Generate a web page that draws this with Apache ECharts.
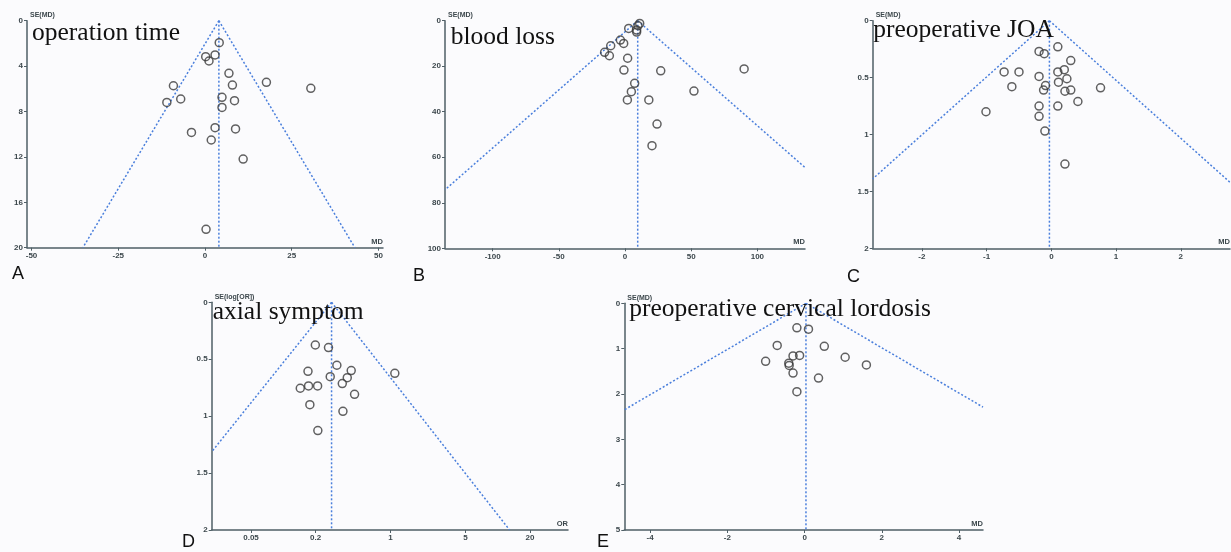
<!DOCTYPE html>
<html><head><meta charset="utf-8">
<script src="https://cdn.jsdelivr.net/npm/echarts@6/dist/echarts.min.js"></script>
<style>html,body{margin:0;padding:0;background:#fbfbfd}#c{width:1231px;height:552px}</style>
</head><body><div id="c"></div>
<script>
// ---------- A: operation time ----------
const opTimeMD = [4.1, 0.2, 2.9, 1.15, 6.9, 17.7, 7.9, -9.1, 30.5, 4.9, 8.5, -7.0, -11.0, 4.9, 2.9, 8.8, -3.9, 1.8, 11.0, 0.3];
const opTimeSE = [1.94, 3.17, 3.02, 3.55, 4.64, 5.43, 5.67, 5.73, 5.96, 6.75, 7.05, 6.90, 7.20, 7.64, 9.43, 9.54, 9.84, 10.51, 12.19, 18.38];
const opTimePooled = 4.0;
const opTimeLeftEnd = [-35.2, 20];
const opTimeRightEnd = [43.2, 20];
const opTimeXTicks = [-50, -25, 0, 25, 50];

// ---------- B: blood loss ----------
const bloodMD = [11.1, 9.8, 8.8, 8.8, 2.8, -3.5, -1.0, -10.8, -15.4, -11.8, 2.0, -0.8, 27.0, 90.0, 7.3, 4.8, 52.1, 1.8, 18.0, 24.2, 20.4];
const bloodSE = [1.2, 2.2, 4.1, 5.0, 3.4, 8.5, 10.0, 11.0, 13.9, 15.4, 16.5, 21.7, 22.0, 21.2, 27.5, 31.2, 30.9, 34.8, 34.8, 45.4, 54.9];
const bloodPooled = 9.6;
const bloodLeftEnd = [-136, 74.3];
const bloodRightEnd = [136, 64.5];
const bloodXTicks = [-100, -50, 0, 50, 100];

// ---------- C: preoperative JOA ----------
const joaMD = [0.10, -0.19, -0.11, 0.30, -0.73, -0.50, 0.10, 0.20, -0.19, 0.24, 0.11, -0.09, -0.61, -0.12, 0.21, 0.30, 0.76, 0.41, -0.19, 0.10, -1.01, -0.19, -0.10, 0.21];
const joaSE = [0.23, 0.27, 0.29, 0.35, 0.45, 0.45, 0.45, 0.43, 0.49, 0.51, 0.54, 0.57, 0.58, 0.61, 0.62, 0.61, 0.59, 0.71, 0.75, 0.75, 0.80, 0.84, 0.97, 1.26];
const joaPooled = -0.03;
const joaLeftEnd = [-2.76, 1.39];
const joaRightEnd = [2.76, 1.42];
const joaXTicks = [-2, -1, 0, 1, 2];

// ---------- D: axial symptom ----------
const axialOR = [0.199, 0.264, 0.316, 0.430, 0.170, 1.097, 0.274, 0.395, 0.355, 0.144, 0.172, 0.209, 0.462, 0.177, 0.360, 0.210];
const axialSE = [0.375, 0.398, 0.553, 0.600, 0.606, 0.624, 0.653, 0.662, 0.714, 0.755, 0.735, 0.735, 0.808, 0.899, 0.958, 1.127];
const axialPooled = 0.282;
const axialLeftEnd = [0.0215, 1.313];
const axialRightEnd = [12.9, 2];
const axialXTicks = [0.05, 0.2, 1, 5, 20];

// ---------- E: preoperative cervical lordosis ----------
const lordMD = [-0.20, 0.10, -0.71, 0.51, -0.30, -0.13, 1.05, -1.01, -0.41, -0.40, 1.60, -0.30, 0.36, -0.20];
const lordSE = [0.54, 0.57, 0.93, 0.95, 1.16, 1.15, 1.19, 1.28, 1.32, 1.37, 1.36, 1.54, 1.65, 1.95];
const lordPooled = 0.035;
const lordLeftEnd = [-4.67, 2.35];
const lordRightEnd = [4.62, 2.29];
const lordXTicks = [-4, -2, 0, 2, 4];

const axisColor = '#4f5f66';
const labelColor = '#3c474c';
const funnelColor = '#4a7fdc';

const cfgs = [
  {grid:{left:27, top:20.7, width:356, height:227}, xmin:-51.3, xmax:51.3, ymax:20, yint:4, ticks:opTimeXTicks,
   x:opTimeMD, y:opTimeSE, pooled:opTimePooled, le:opTimeLeftEnd, re:opTimeRightEnd, xname:'MD', yname:'SE(MD)'},
  {grid:{left:445, top:20.7, width:360, height:227.6}, xmin:-136, xmax:136, ymax:100, yint:20, ticks:bloodXTicks,
   x:bloodMD, y:bloodSE, pooled:bloodPooled, le:bloodLeftEnd, re:bloodRightEnd, xname:'MD', yname:'SE(MD)'},
  {grid:{left:872.7, top:20.7, width:358, height:227.6}, xmin:-2.76, xmax:2.76, ymax:2, yint:0.5, ticks:joaXTicks,
   x:joaMD, y:joaSE, pooled:joaPooled, le:joaLeftEnd, re:joaRightEnd, xname:'MD', yname:'SE(MD)'},
  {grid:{left:211.7, top:302.3, width:356.3, height:227.7}, log:true, xmin:0.0215, xmax:45.2, ymax:2, yint:0.5, ticks:axialXTicks,
   x:axialOR, y:axialSE, pooled:axialPooled, le:axialLeftEnd, re:axialRightEnd, xname:'OR', yname:'SE(log[OR])'},
  {grid:{left:624.3, top:303.3, width:358.7, height:226.7}, xmin:-4.67, xmax:4.62, ymax:5, yint:1, ticks:lordXTicks,
   x:lordMD, y:lordSE, pooled:lordPooled, le:lordLeftEnd, re:lordRightEnd, xname:'MD', yname:'SE(MD)'}
];

const grids = [], xAxes = [], yAxes = [], series = [];
cfgs.forEach((c, i) => {
  grids.push(c.grid);
  xAxes.push({
    gridIndex:i, type: c.log ? 'log' : 'value', logBase:10, min:c.xmin, max:c.xmax,
    axisLine:{onZero:false, lineStyle:{color:axisColor, width:1.5}},
    axisTick:{customValues:c.ticks, length:3, lineStyle:{color:axisColor, width:1}},
    axisLabel:{customValues:c.ticks, fontSize:8, color:labelColor, margin:4, fontWeight:'bold', fontFamily:'Liberation Sans'},
    splitLine:{show:false}, minorTick:{show:false},
    name:c.xname, nameLocation:'end', nameGap:0,
    nameTextStyle:{align:'right', verticalAlign:'bottom', fontSize:7.5, color:labelColor, fontWeight:'bold', fontFamily:'Liberation Sans', padding:[0,0,2,0]}
  });
  yAxes.push({
    gridIndex:i, type:'value', inverse:true, min:0, max:c.ymax, interval:c.yint,
    axisLine:{onZero:false, lineStyle:{color:axisColor, width:1.5}},
    axisTick:{length:3, lineStyle:{color:axisColor, width:1}},
    axisLabel:{fontSize:8, color:labelColor, margin:4, fontWeight:'bold', fontFamily:'Liberation Sans'},
    splitLine:{show:false},
    name:c.yname, nameLocation:'start', nameGap:2,
    nameTextStyle:{align:'left', verticalAlign:'bottom', fontSize:7, color:labelColor, fontWeight:'bold', fontFamily:'Liberation Sans', padding:[0,0,0,3]}
  });
  const ls = {color:funnelColor, width:1.5, type:[2,2]};
  [[[c.pooled,0], c.le], [[c.pooled,0], c.re], [[c.pooled,0], [c.pooled, c.ymax]]].forEach(d => {
    series.push({type:'line', xAxisIndex:i, yAxisIndex:i, data:d, showSymbol:false, symbol:'none',
      lineStyle:ls, silent:true, z:2, clip:true});
  });
  series.push({type:'scatter', xAxisIndex:i, yAxisIndex:i, data:c.x.map((v,k)=>[v, c.y[k]]),
    symbol:'circle', symbolSize:8, z:3,
    itemStyle:{color:'rgba(0,0,0,0)', borderColor:'#3a3a3a', borderWidth:1.5}});
});

const serif = {fontFamily:'Liberation Serif', fontSize:25.5, fontWeight:'normal', color:'#111', lineHeight:26};
const sans = {fontFamily:'Liberation Sans', fontSize:18, fontWeight:'normal', color:'#111', lineHeight:18};
const titles = [
  {text:'operation time', left:32, top:20.7, padding:0, textStyle:serif},
  {text:'blood loss', left:450.7, top:24.7, padding:0, textStyle:serif},
  {text:'preoperative JOA', left:873.3, top:17.3, padding:0, textStyle:serif},
  {text:'axial symptom', left:212.7, top:299.7, padding:0, textStyle:serif},
  {text:'preoperative cervical lordosis', left:629.3, top:296.3, padding:0, textStyle:serif},
  {text:'A', left:12, top:264.7, padding:0, textStyle:sans},
  {text:'B', left:413, top:266.7, padding:0, textStyle:sans},
  {text:'C', left:847, top:267.7, padding:0, textStyle:sans},
  {text:'D', left:182, top:532.7, padding:0, textStyle:sans},
  {text:'E', left:597, top:532.7, padding:0, textStyle:sans}
];

const chart = echarts.init(document.getElementById('c'), null, {renderer:'canvas'});
chart.setOption({
  backgroundColor:'#fbfbfd', animation:false,
  title:titles, grid:grids, xAxis:xAxes, yAxis:yAxes, series:series
});
</script></body></html>
